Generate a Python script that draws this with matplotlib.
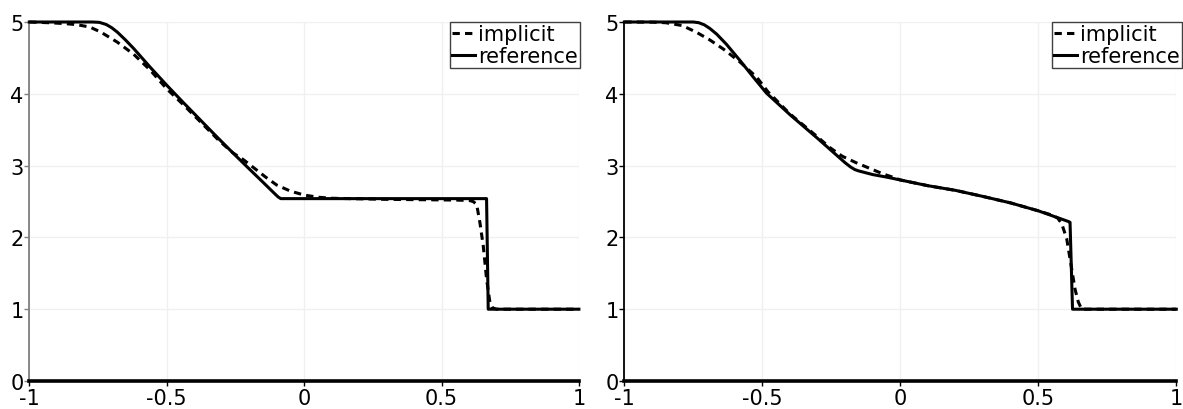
import matplotlib
matplotlib.use("Agg")
import matplotlib.pyplot as plt

# ---------------- data ----------------
ref_left_x = [-1.0, -0.77, -0.745, -0.72, -0.70, -0.68, -0.65, -0.62, -0.56, -0.50,
              -0.44, -0.38, -0.32, -0.26, -0.20, -0.15, -0.11, -0.095, -0.085, 0.0,
              0.3, 0.664, 0.670, 1.0]
ref_left_y = [5.0, 5.0, 4.995, 4.965, 4.92, 4.86, 4.75, 4.63, 4.37, 4.12,
              3.88, 3.645, 3.41, 3.18, 2.955, 2.77, 2.62, 2.565, 2.54, 2.54,
              2.54, 2.54, 1.0, 1.0]

imp_left_x = [-1.0, -0.93, -0.88, -0.83, -0.78, -0.74, -0.68, -0.62, -0.56, -0.50,
              -0.44, -0.38, -0.31, -0.26, -0.22, -0.18, -0.14, -0.10, -0.05, 0.0,
              0.05, 0.10, 0.3, 0.55, 0.60, 0.615, 0.628, 0.64, 0.652, 0.664,
              0.676, 0.685, 0.70, 1.0]
imp_left_y = [5.0, 4.99, 4.98, 4.965, 4.93, 4.86, 4.72, 4.55, 4.33, 4.07,
              3.85, 3.62, 3.35, 3.18, 3.08, 2.96, 2.84, 2.73, 2.645, 2.59,
              2.56, 2.545, 2.53, 2.52, 2.515, 2.50, 2.46, 2.20, 1.88, 1.42,
              1.10, 1.02, 1.0, 1.0]

ref_right_x = [-1.0, -0.75, -0.73, -0.71, -0.69, -0.665, -0.63, -0.58, -0.53, -0.485,
               -0.40, -0.30, -0.20, -0.18, -0.165, -0.15, -0.10, -0.05, 0.0, 0.1,
               0.2, 0.3, 0.4, 0.5, 0.61, 0.615, 0.624, 1.0]
ref_right_y = [5.0, 5.0, 4.99, 4.96, 4.91, 4.83, 4.69, 4.46, 4.22, 4.01,
               3.71, 3.38, 3.04, 2.98, 2.945, 2.925, 2.875, 2.84, 2.80, 2.72,
               2.655, 2.57, 2.48, 2.37, 2.22, 2.21, 1.0, 1.0]

imp_right_x = [-1.0, -0.90, -0.85, -0.79, -0.74, -0.69, -0.64, -0.58, -0.52, -0.48,
               -0.40, -0.30, -0.255, -0.21, -0.16, -0.11, -0.06, -0.02, 0.0, 0.1,
               0.2, 0.3, 0.4, 0.5, 0.55, 0.57, 0.585, 0.603, 0.615, 0.633,
               0.645, 0.657, 0.67, 1.0]
imp_right_y = [5.0, 4.998, 4.99, 4.95, 4.86, 4.75, 4.62, 4.44, 4.23, 4.03,
               3.72, 3.40, 3.25, 3.13, 3.04, 2.96, 2.88, 2.83, 2.80, 2.72,
               2.655, 2.57, 2.48, 2.37, 2.31, 2.27, 2.19, 1.98, 1.70, 1.28,
               1.10, 1.0, 1.0, 1.0]

x_ticks = [-1, -0.5, 0, 0.5, 1]
x_tick_labels = ["-1", "-0.5", "0", "0.5", "1"]
y_ticks = [0, 1, 2, 3, 4, 5]
y_tick_labels = ["0", "1", "2", "3", "4", "5"]
series_labels = ["implicit", "reference"]

# ---------------- figure ----------------
plt.rcParams['font.family'] = ['DejaVu Sans']
W, H = 1183, 410
fig = plt.figure(figsize=(W / 100, H / 100), dpi=100)

panels = [
    dict(rect=[29.3 / W, (H - 382) / H, 549.6 / W, 359 / H], spine="#808080",
         ref=(ref_left_x, ref_left_y), imp=(imp_left_x, imp_left_y),
         leg_anchor=(580 / W, (H - 23) / H)),
    dict(rect=[624.3 / W, (H - 382) / H, 552 / W, 359 / H], spine="black",
         ref=(ref_right_x, ref_right_y), imp=(imp_right_x, imp_right_y),
         leg_anchor=(1182 / W, (H - 23) / H)),
]

for p in panels:
    ax = fig.add_axes(p["rect"])
    ax.set_xlim(-1, 1)
    ax.set_ylim(0, 5)
    ax.set_xticks(x_ticks)
    ax.set_xticklabels(x_tick_labels)
    ax.set_yticks(y_ticks)
    ax.set_yticklabels(y_tick_labels)
    ax.grid(True, color="#f0f0f0", linewidth=1.0)
    ax.set_axisbelow(True)
    for s in ["top", "right"]:
        ax.spines[s].set_visible(False)
    ax.spines["left"].set_color(p["spine"])
    ax.spines["left"].set_linewidth(1.3)
    ax.spines["bottom"].set_color("black")
    ax.spines["bottom"].set_linewidth(2.6)
    ax.tick_params(axis="both", labelsize=15, length=3.5, width=1, pad=1,
                   colors="black")
    ax.tick_params(axis="y", color=p["spine"], pad=0.5)
    ax.tick_params(axis="x", pad=1.5)

    l1, = ax.plot(p["imp"][0], p["imp"][1], color="black", linewidth=2.2,
                  linestyle=(0, (2.4, 1.7)), label=series_labels[0],
                  clip_on=False, zorder=3)
    l2, = ax.plot(p["ref"][0], p["ref"][1], color="black", linewidth=2.2,
                  label=series_labels[1], clip_on=False, zorder=4)

    leg = fig.legend(handles=[l1, l2], loc="upper right",
                     bbox_to_anchor=p["leg_anchor"],
                     bbox_transform=fig.transFigure,
                     fontsize=15, frameon=True, fancybox=False,
                     handlelength=1.1, handletextpad=0.15, borderpad=0.1,
                     labelspacing=0.1, borderaxespad=0.0)
    fr = leg.get_frame()
    fr.set_edgecolor("#404040")
    fr.set_linewidth(1.0)
    fr.set_facecolor("white")
    fr.set_alpha(1.0)

fig.savefig("out.png", dpi=100)
